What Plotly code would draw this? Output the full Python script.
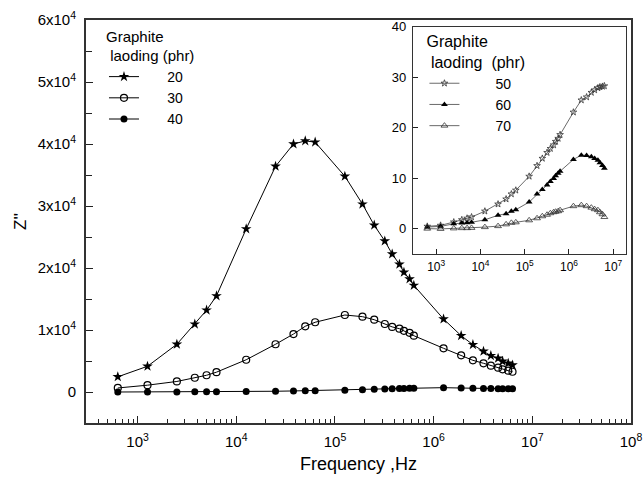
import math
import plotly.graph_objects as go

# ---------------- data ----------------
freq = [630, 1260, 2500, 3800, 5000, 6300,
        12600, 25000, 38000, 50000, 63000,
        126000, 190000, 250000, 320000, 380000, 450000, 500000, 570000, 630000,
        1.26e6, 1.9e6, 2.5e6, 3.2e6, 3.8e6, 4.5e6, 5.0e6, 5.7e6, 6.3e6]

z20 = [2450, 4150, 7700, 10950, 13200, 15500,
       26300, 36400, 40000, 40500, 40300,
       34800, 30300, 26900, 24350, 22260, 20600, 19300, 18230, 17200,
       11770, 9080, 7630, 6560, 5860, 5430, 4950, 4630, 4350]
z30 = [650, 1100, 1700, 2300, 2700, 3200,
       5200, 7700, 9350, 10600, 11250,
       12420, 12150, 11660, 10970, 10500, 10210, 9860, 9540, 9080,
       7050, 5920, 5110, 4630, 4240, 3920, 3660, 3440, 3270]
z40 = [0, 0, 20, 30, 40, 50,
       80, 120, 170, 200, 220,
       300, 380, 430, 480, 520, 560, 580, 600, 610,
       700, 640, 600, 580, 560, 540, 530, 520, 510]

z50 = [0.5, 0.7, 1.35, 1.8, 2.1, 2.35,
       3.5, 4.9, 5.9, 6.9, 7.65,
       10.4, 12.5, 13.95, 15.1, 15.9, 16.6, 17.3, 17.9, 18.65,
       23.1, 25.5, 26.1, 27.0, 27.5, 27.9, 28.1, 28.2, 28.3]
z60 = [0.36, 0.5, 1.0, 1.15, 1.2, 1.3,
       1.8, 2.7, 3.0, 3.5, 3.8,
       5.3, 6.9, 7.8, 8.7, 9.4, 10.0, 10.5, 11.0, 11.4,
       13.75, 14.6, 14.55, 14.3, 13.95, 13.6, 13.1, 12.55, 12.0]
z70 = [0.05, 0.0, 0.1, 0.15, 0.15, 0.2,
       0.35, 0.55, 0.9, 1.2, 1.3,
       1.7, 2.1, 2.5, 2.8, 3.1, 3.3, 3.4, 3.5, 3.7,
       4.5, 4.7, 4.5, 4.2, 3.9, 3.7, 3.3, 2.9, 2.35]

main_labels = ["20", "30", "40"]
inset_labels = ["50", "60", "70"]

y_main_ticks = [0, 10000, 20000, 30000, 40000, 50000, 60000]
y_main_text = ["0", "1x10<sup>4</sup>", "2x10<sup>4</sup>", "3x10<sup>4</sup>",
               "4x10<sup>4</sup>", "5x10<sup>4</sup>", "6x10<sup>4</sup>"]
y_main_minor = [5000, 15000, 25000, 35000, 45000, 55000]
x_main_ticks = [1e3, 1e4, 1e5, 1e6, 1e7, 1e8]
x_main_text = ["10<sup>3</sup>", "10<sup>4</sup>", "10<sup>5</sup>",
               "10<sup>6</sup>", "10<sup>7</sup>", "10<sup>8</sup>"]
x_inset_ticks = [1e3, 1e4, 1e5, 1e6, 1e7]
x_inset_text = x_main_text[:5]
y_inset_ticks = [0, 10, 20, 30, 40]
x_minor = [k * 10 ** n for n in range(2, 8) for k in range(2, 10)]

FONT = "Arial, Liberation Sans, sans-serif"
pad_main = "\u00a0" * 6
pad_inset = "\u00a0" * 8

fig = go.Figure()

line = dict(color="black", width=1)
fig.add_trace(go.Scatter(x=freq, y=z20, mode="lines+markers", name=pad_main + main_labels[0],
                         line=line, marker=dict(symbol="star", size=8, color="black"),
                         legend="legend"))
fig.add_trace(go.Scatter(x=freq, y=z30, mode="lines+markers", name=pad_main + main_labels[1],
                         line=line, marker=dict(symbol="circle-open", size=7, color="black",
                                                line=dict(width=1.2)),
                         legend="legend"))
fig.add_trace(go.Scatter(x=freq, y=z40, mode="lines+markers", name=pad_main + main_labels[2],
                         line=line, marker=dict(symbol="circle", size=7, color="black"),
                         legend="legend"))

iline = dict(color="#444", width=0.8)
fig.add_trace(go.Scatter(x=freq, y=z50, mode="lines+markers", name=pad_inset + inset_labels[0],
                         xaxis="x2", yaxis="y2", line=iline,
                         marker=dict(symbol="star-open", size=5, color="#333", line=dict(width=0.8)),
                         legend="legend2"))
fig.add_trace(go.Scatter(x=freq, y=z60, mode="lines+markers", name=pad_inset + inset_labels[1],
                         xaxis="x2", yaxis="y2", line=iline,
                         marker=dict(symbol="triangle-up", size=6, color="black"),
                         legend="legend2"))
fig.add_trace(go.Scatter(x=freq, y=z70, mode="lines+markers", name=pad_inset + inset_labels[2],
                         xaxis="x2", yaxis="y2", line=iline,
                         marker=dict(symbol="triangle-up-open", size=6, color="#333", line=dict(width=0.8)),
                         legend="legend2"))

axis_common = dict(showgrid=False, zeroline=False, showline=True, mirror=True,
                   ticks="inside", tickcolor="#222", automargin=False)

fig.update_layout(
    width=643, height=481,
    margin=dict(l=86, r=12, t=20, b=58),
    paper_bgcolor="white", plot_bgcolor="white",
    font=dict(family=FONT, size=14, color="black"),
    showlegend=True,
    xaxis=dict(type="log", range=[math.log10(300), 8], domain=[0, 1],
               tickmode="array", tickvals=x_main_ticks, ticktext=x_main_text,
               ticklen=7, linecolor="#333", linewidth=2,
               minor=dict(tickmode="array", tickvals=x_minor, ticks="inside", ticklen=4,
                          tickcolor="#222"),
               tickfont=dict(size=15), ticklabelstandoff=4,
               title=dict(text="Frequency ,Hz", font=dict(size=18), standoff=8),
               **axis_common),
    yaxis=dict(range=[-5000, 60000], domain=[0, 1],
               tickmode="array", tickvals=y_main_ticks, ticktext=y_main_text,
               ticklen=7, linecolor="#333", linewidth=2,
               minor=dict(tickmode="array", tickvals=y_main_minor, ticks="inside", ticklen=6,
                          tickcolor="#222"),
               tickfont=dict(size=15), ticklabelstandoff=5,
               title=dict(text="Z''", font=dict(size=17), standoff=7),
               **axis_common),
    xaxis2=dict(type="log", range=[math.log10(300), 7.29], domain=[0.600, 0.991],
                anchor="y2", tickmode="array", tickvals=x_inset_ticks, ticktext=x_inset_text,
                ticklen=5, linecolor="#333", linewidth=1.2,
                tickfont=dict(size=12), ticklabelstandoff=1,
                **axis_common),
    yaxis2=dict(range=[-5, 40], domain=[0.419, 0.983], anchor="x2",
                tickmode="array", tickvals=y_inset_ticks,
                ticklen=5, linecolor="#333", linewidth=1.2,
                tickfont=dict(size=13), ticklabelstandoff=3,
                **axis_common),
    legend=dict(x=0.033, y=0.995, xanchor="left", yanchor="top",
                bgcolor="rgba(0,0,0,0)", borderwidth=0,
                font=dict(size=14), tracegroupgap=0,
                title=dict(text="Graphite<br>\u00a0laoding (phr)", font=dict(size=15))),
    legend2=dict(x=0.621, y=0.985, xanchor="left", yanchor="top",
                 bgcolor="rgba(0,0,0,0)", borderwidth=0,
                 font=dict(size=14), tracegroupgap=0,
                 title=dict(text="Graphite<br>\u00a0laoding\u00a0\u00a0(phr)", font=dict(size=16))),
)

fig.write_html("out.html",
               config={"displayModeBar": False},
               post_script="document.body.style.margin='0';document.body.style.overflow='hidden';")
